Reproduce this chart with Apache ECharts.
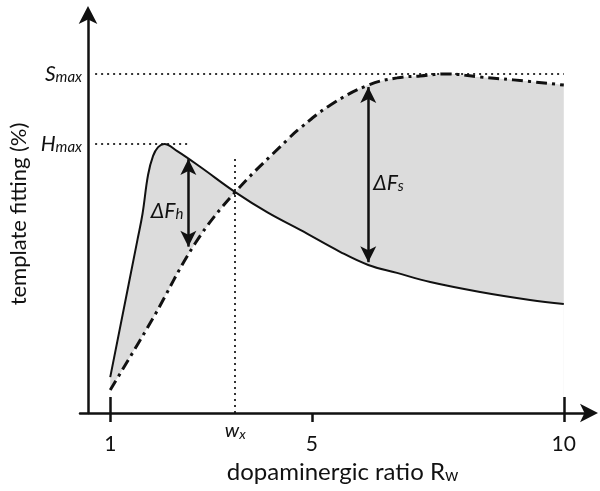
<!DOCTYPE html>
<html>
<head>
<meta charset="utf-8">
<script src="https://cdn.jsdelivr.net/npm/echarts@6/dist/echarts.min.js"></script>
<style>
  html, body { margin: 0; padding: 0; background: #fff; }
  #chart { width: 600px; height: 491px; }
</style>
</head>
<body>
<div id="chart"></div>
<script>
// Hedonic (solid) and sensory (dash-dot) template fitting vs. dopaminergic ratio
const rw_H  = [1.00, 1.54, 1.64, 1.75, 1.85, 1.95, 2.07, 2.33, 2.79, 3.48, 4.12, 4.77, 5.56, 6.12, 6.69, 7.35, 8.34, 9.33, 10.0];
const fit_H = [9.0, 43.5, 50.0, 59.8, 64.6, 66.8, 67.6, 65.8, 61.8, 55.5, 50.4, 46.0, 40.5, 37.2, 35.2, 32.9, 30.4, 28.4, 27.4];

const rw_S  = [1.00, 1.83, 2.69, 3.48, 4.51, 4.77, 5.37, 6.12, 6.69, 7.15, 7.69, 8.34, 9.00, 10.0];
const fit_S = [5.8, 23.4, 42.7, 55.5, 68.6, 71.6, 77.4, 82.4, 84.2, 84.7, 85.2, 84.4, 83.7, 82.4];

// crossing point of the two curves
const wx = 3.48;

const xTickValues = [1, 5, 10];
const xLongTicks = [1, 10];

// double arrows: gap between the curves at two ratios
const dFh = { x: 2.55, from: 41.8, to: 63.8 };
const dFs = { x: 6.12, from: 37.9, to: 81.9 };

const Hmax = Math.max(...fit_H);
const Smax = Math.max(...fit_S);

const H = rw_H.map((x, i) => [x, fit_H[i]]);
const S = rw_S.map((x, i) => [x, fit_S[i]]);
const H_left = H.filter(p => p[0] <= wx), H_right = H.filter(p => p[0] >= wx);
const S_left = S.filter(p => p[0] <= wx), S_right = S.filter(p => p[0] >= wx);

const FONT = 'Lato';
const SMOOTH = 0.4;
const FILL = '#dcdcdc';
const INK = '#111';

const subRich = {
  it: { fontFamily: FONT, fontSize: 21, fontStyle: 'italic', color: INK, verticalAlign: 'bottom', lineHeight: 22 },
  sub: { fontFamily: FONT, fontSize: 15, fontStyle: 'italic', color: INK, verticalAlign: 'bottom', lineHeight: 10 }
};

function areaSeries(data, color, z) {
  return {
    type: 'line', data, smooth: SMOOTH, symbol: 'none', z,
    lineStyle: { width: 0 }, areaStyle: { color, opacity: 1 }, silent: true
  };
}

const chart = echarts.init(document.getElementById('chart'), null, { renderer: 'canvas' });

chart.setOption({
  animation: false,
  backgroundColor: '#fff',
  grid: { left: 80, right: 11, top: 15, bottom: 78, outerBoundsMode: 'none' },
  xAxis: [{
    type: 'value', min: 0.4, max: 10.5, position: 'bottom', z: 10,
    name: 'dopaminergic ratio R{w|w}', nameLocation: 'middle', nameGap: 38,
    nameTextStyle: {
      fontFamily: FONT, fontSize: 24, color: INK, padding: [0, 0, 0, 16],
      rich: { w: { fontFamily: FONT, fontSize: 17, color: INK, verticalAlign: 'bottom', lineHeight: 12 } }
    },
    axisLine: { onZero: false, symbol: ['none', 'arrow'], symbolSize: [14, 18], symbolOffset: [0, 9], lineStyle: { color: INK, width: 2.5 } },
    axisTick: { show: true, customValues: xTickValues, length: 9, lineStyle: { color: INK, width: 2.5 } },
    axisLabel: { customValues: xTickValues, margin: 21, fontFamily: FONT, fontSize: 21, color: INK },
    splitLine: { show: false }
  }, {
    type: 'value', min: 0.4, max: 10.5, position: 'bottom', z: 10,
    axisLine: { show: false },
    axisTick: { show: true, inside: true, customValues: xLongTicks, length: 16, lineStyle: { color: INK, width: 2.5 } },
    axisLabel: {
      customValues: [wx], margin: 8,
      formatter: () => '{it|w}{sub|x}',
      rich: {
        it: { fontFamily: FONT, fontSize: 20, fontStyle: 'italic', color: INK, verticalAlign: 'bottom', lineHeight: 20 },
        sub: { fontFamily: FONT, fontSize: 14, fontStyle: 'italic', color: INK, verticalAlign: 'bottom', lineHeight: 9 }
      }
    },
    splitLine: { show: false }
  }],
  yAxis: {
    type: 'value', min: 0, max: 100, offset: -8, z: 10,
    name: 'template fitting (%)', nameLocation: 'middle', nameGap: 54,
    nameTextStyle: { fontFamily: FONT, fontSize: 22, color: INK },
    axisLine: { onZero: false, symbol: ['none', 'arrow'], symbolSize: [14, 18], symbolOffset: [0, 9], lineStyle: { color: INK, width: 2.5 } },
    axisTick: { show: false },
    axisLabel: {
      customValues: [Hmax, Smax], margin: 6,
      formatter: v => (v === Smax ? '{it|S}{sub|max}' : '{it|H}{sub|max}'),
      rich: subRich
    },
    splitLine: { show: false }
  },
  series: [
    areaSeries(H_left, FILL, 1),
    areaSeries(S_right, FILL, 1),
    areaSeries(S_left, '#fff', 2),
    areaSeries(H_right, '#fff', 2),
    {
      name: 'H', type: 'line', data: H, smooth: SMOOTH, symbol: 'none', z: 5,
      lineStyle: { color: INK, width: 2 },
      markLine: {
        silent: true, symbol: ['arrow', 'arrow'], symbolSize: [12, 16],
        label: { show: false },
        lineStyle: { color: INK, width: 2.5, type: 'solid' },
        data: [
          [{ coord: [dFh.x, dFh.from] }, { coord: [dFh.x, dFh.to] }],
          [{ coord: [dFs.x, dFs.from] }, { coord: [dFs.x, dFs.to] }]
        ]
      },
      markPoint: {
        silent: true, symbol: 'circle', symbolSize: 0,
        data: [
          {
            coord: [dFh.x, (dFh.from + dFh.to) / 2],
            label: { show: true, position: 'left', distance: 5, offset: [0, 8], formatter: '{it|ΔF}{sub|h}', rich: subRich }
          },
          {
            coord: [dFs.x, (dFs.from + dFs.to) / 2],
            label: { show: true, position: 'right', distance: 5, offset: [0, 8], formatter: '{it|ΔF}{sub|s}', rich: subRich }
          }
        ]
      }
    },
    {
      name: 'S', type: 'line', data: S, smooth: SMOOTH, symbol: 'none', z: 5,
      lineStyle: { color: INK, width: 3, type: [11, 5, 3, 5] },
      markLine: {
        silent: true, symbol: 'none',
        label: { show: false },
        lineStyle: { color: '#333', width: 2, type: [2, 4] },
        data: [
          [{ coord: [0.7, Hmax] }, { coord: [2.6, Hmax] }],
          [{ coord: [0.7, Smax] }, { coord: [10, Smax] }],
          [{ coord: [wx, 0] }, { coord: [wx, 64.5] }]
        ]
      }
    }
  ]
});
</script>
</body>
</html>
